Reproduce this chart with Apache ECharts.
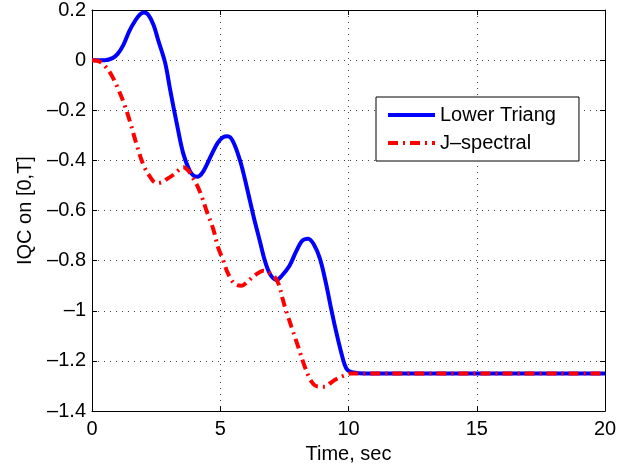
<!DOCTYPE html>
<html>
<head>
<meta charset="utf-8">
<script src="https://cdn.jsdelivr.net/npm/echarts@6/dist/echarts.min.js"></script>
<style>
html,body{margin:0;padding:0;background:#fff;}
#chart{width:634px;height:469px;}
</style>
</head>
<body>
<div id="chart"></div>
<script>
// Lower Triang
var tLower = [0, 0.5, 0.8, 1.0, 1.22, 1.45, 1.7, 1.88, 2.03, 2.2, 2.4, 2.58, 2.85, 3.05, 3.3, 3.55, 3.8, 3.95, 4.1, 4.3, 4.66, 4.9, 5.1, 5.29, 5.5, 5.77, 5.95, 6.16, 6.35, 6.54, 6.74, 6.95, 7.2, 7.4, 7.7, 7.95, 8.2, 8.43, 8.65, 8.88, 9.1, 9.3, 9.5, 9.7, 9.85, 9.98, 10.2, 10.6, 20];
var yLower = [0, 0, 0.008, 0.025, 0.06, 0.115, 0.16, 0.183, 0.19, 0.18, 0.14, 0.08, -0.01, -0.12, -0.25, -0.37, -0.44, -0.46, -0.465, -0.45, -0.377, -0.33, -0.308, -0.304, -0.325, -0.40, -0.47, -0.562, -0.645, -0.72, -0.80, -0.855, -0.877, -0.86, -0.82, -0.765, -0.72, -0.712, -0.735, -0.79, -0.88, -0.98, -1.075, -1.16, -1.215, -1.238, -1.246, -1.25, -1.25];
// J-spectral
var tJ = [0, 0.31, 0.6, 0.83, 1.02, 1.22, 1.48, 1.74, 2.0, 2.26, 2.5, 2.7, 2.91, 3.2, 3.4, 3.56, 3.75, 3.9, 4.08, 4.27, 4.47, 4.73, 4.92, 5.12, 5.31, 5.57, 5.83, 6.05, 6.3, 6.5, 6.67, 6.9, 7.13, 7.3, 7.45, 7.6, 7.78, 8.04, 8.3, 8.56, 8.8, 9.07, 9.27, 9.46, 9.86, 10.1, 20];
var yJ = [0, -0.006, -0.035, -0.073, -0.115, -0.165, -0.245, -0.337, -0.417, -0.465, -0.49, -0.488, -0.475, -0.455, -0.437, -0.427, -0.44, -0.465, -0.496, -0.542, -0.602, -0.675, -0.748, -0.80, -0.853, -0.893, -0.9, -0.885, -0.862, -0.848, -0.84, -0.848, -0.866, -0.9, -0.959, -1.01, -1.065, -1.144, -1.224, -1.283, -1.302, -1.303, -1.29, -1.276, -1.257, -1.25, -1.25];
var seriesNames = ['Lower Triang', 'J\u2013spectral'];
var xName = 'Time, sec';
var yName = 'IQC on [0,T]';

function zip(a, b) { return a.map(function (v, i) { return [v, b[i]]; }); }
function fmtY(v) {
  var r = Math.round(v * 10) / 10;
  if (r === 0) return '0';
  return r < 0 ? '\u2013' + Math.abs(r) : String(r);
}
var FONT = 'Liberation Sans, Arial, Helvetica, sans-serif';
var gridLine = { show: true, lineStyle: { color: '#444', width: 1, type: [1, 5] } };

var chart = echarts.init(document.getElementById('chart'));
chart.setOption({
  animation: false,
  backgroundColor: '#fff',
  grid: { left: 92, right: 29, top: 9, bottom: 57 },
  legend: {
    orient: 'vertical',
    left: 376, top: 97,
    backgroundColor: '#fff',
    borderColor: '#000', borderWidth: 1,
    padding: [8, 23, 8, 10],
    itemWidth: 47, itemHeight: 14, itemGap: 8,
    itemStyle: { opacity: 0 },
    lineStyle: { width: 4 },
    textStyle: { fontFamily: FONT, fontSize: 20, color: '#000', lineHeight: 20 },
    data: seriesNames
  },
  xAxis: [{
    type: 'value', min: 0, max: 20, interval: 5,
    name: xName, nameLocation: 'middle', nameGap: 32,
    nameTextStyle: { fontFamily: FONT, fontSize: 20, color: '#000' },
    axisLine: { show: true, onZero: false, lineStyle: { color: '#000', width: 1 } },
    axisTick: { show: true, inside: true, length: 5, lineStyle: { color: '#000' } },
    axisLabel: { fontFamily: FONT, fontSize: 20, color: '#000', margin: 8 },
    splitLine: gridLine
  }, {
    type: 'value', min: 0, max: 20, interval: 5, position: 'top',
    axisLine: { show: true, onZero: false, lineStyle: { color: '#000', width: 1 } },
    axisTick: { show: true, inside: true, length: 5, lineStyle: { color: '#000' } },
    axisLabel: { show: false }, splitLine: { show: false }
  }],
  yAxis: [{
    type: 'value', min: -1.4, max: 0.2, interval: 0.2,
    name: yName, nameLocation: 'middle', nameGap: 57, nameRotate: 90,
    nameTextStyle: { fontFamily: FONT, fontSize: 20, color: '#000' },
    axisLine: { show: true, onZero: false, lineStyle: { color: '#000', width: 1 } },
    axisTick: { show: true, inside: true, length: 5, lineStyle: { color: '#000' } },
    axisLabel: { fontFamily: FONT, fontSize: 20, color: '#000', margin: 6, formatter: fmtY },
    splitLine: gridLine
  }, {
    type: 'value', min: -1.4, max: 0.2, interval: 0.2, position: 'right',
    axisLine: { show: true, onZero: false, lineStyle: { color: '#000', width: 1 } },
    axisTick: { show: true, inside: true, length: 5, lineStyle: { color: '#000' } },
    axisLabel: { show: false }, splitLine: { show: false }
  }],
  series: [{
    name: seriesNames[0], type: 'line', xAxisIndex: 0, yAxisIndex: 0,
    data: zip(tLower, yLower), symbol: 'none', smooth: 0.35,
    lineStyle: { color: '#0000ff', width: 4, join: 'round' }, itemStyle: { color: '#0000ff' }, z: 2
  }, {
    name: seriesNames[1], type: 'line', xAxisIndex: 0, yAxisIndex: 0,
    data: zip(tJ, yJ), symbol: 'none', smooth: 0.35,
    lineStyle: { color: '#ff0000', width: 4, type: [10, 5, 2, 5], cap: 'butt' }, itemStyle: { color: '#ff0000' }, z: 3
  }]
});
</script>
</body>
</html>
